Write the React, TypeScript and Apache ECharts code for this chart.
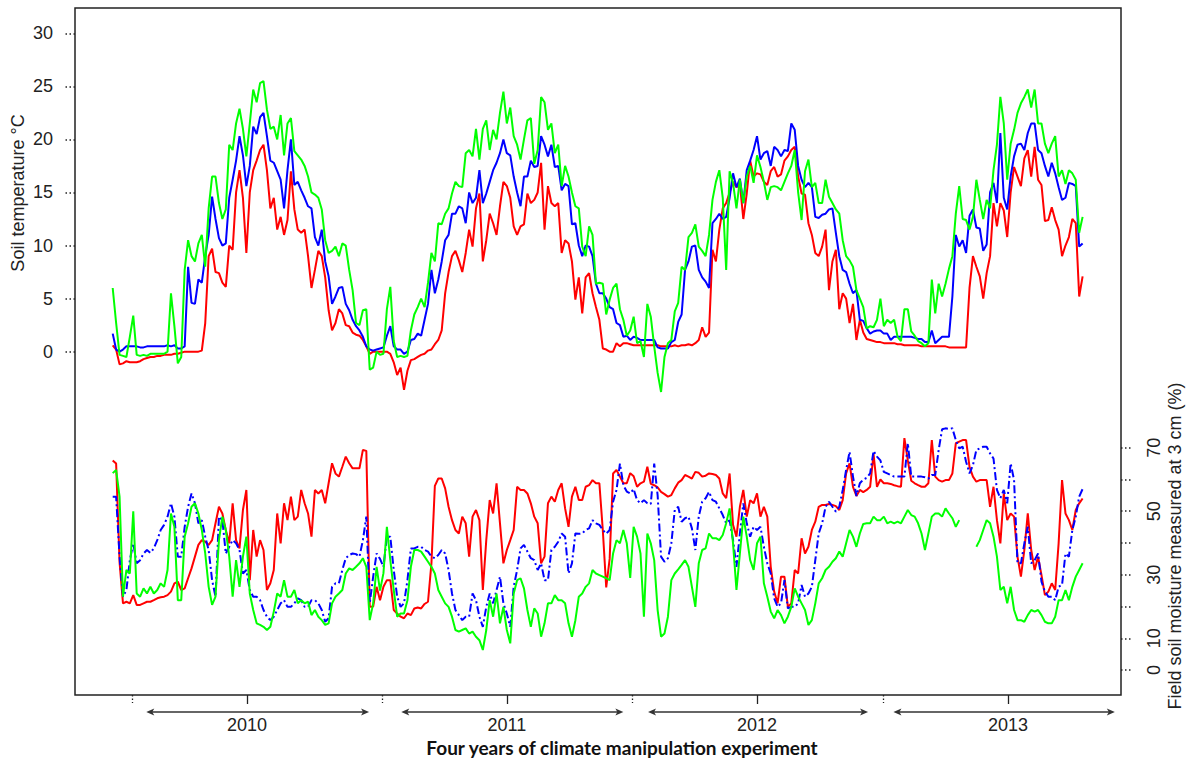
import React, { useEffect, useRef } from "react";
import * as echarts from "echarts";

// Sampling grid: readings every STEP_DAYS days from START_DAY (days relative to 1 Jan 2010);
// the "Mid" arrays hold the readings half a step later.
const START_DAY = -28;
const STEP_DAYS = 10;

// ---------- Soil temperature (°C) ----------
const tempRed = [
  0.6, -1.2, -0.9, -1.0, -0.9, -0.6, -0.5, -0.4, -0.3, -0.2,
  -0.1, 0.0, 0.0, 0.1, 9.0, 7.5, 6.5, 10.0, 15.0, 14.5,
  15.0, 18.0, 19.5, 13.5, 11.5, 11.0, 17.0, 11.5, 11.5, 6.0,
  9.5, 7.0, 2.0, 4.0, 2.5, 1.8, 1.5, 0.5, 0.0, 0.0,
  0.0, -1.0, -1.5, -1.8, -0.7, -0.3, 0.1, 0.7, 2.0, 7.5,
  9.5, 7.5, 11.5, 13.5, 8.5, 13.0, 11.0, 16.0, 14.5, 11.0,
  12.0, 14.0, 15.0, 11.5, 14.0, 14.0, 10.5, 8.5, 7.0, 7.0,
  5.5, 3.0, 0.2, 0.0, 0.5, 0.8, 0.6, 0.6, 0.6, 0.6,
  0.5, 0.5, 0.6, 0.6, 0.7, 0.8, 2.3, 1.8, 8.5, 13.5,
  15.0, 15.5, 12.5, 18.0, 16.8, 16.0, 17.0, 16.5, 18.0, 19.0,
  16.5, 14.8, 11.0, 9.0, 11.5, 8.5, 4.0, 5.0, 4.5, 3.0,
  1.2, 1.0, 0.9, 0.8, 0.8, 0.7, 0.6, 0.6, 0.5, 0.5,
  0.5, 0.5, 0.4, 0.4, 0.4, 6.0, 8.0, 5.0, 9.0, 11.8,
  13.3, 15.0, 16.5, 18.2, 16.5, 16.2, 12.3, 13.6, 11.5, 10.0,
  12.5, 5.2,
];
const tempRedMid = [
  0.2, -1.1, -1.0, -1.0, -0.7, -0.5, -0.4, -0.3, -0.3, -0.2,
  0.0, 0.0, 0.0, 2.7, 9.7, 7.4, 6.1, 9.6, 17.1, 9.3,
  17.1, 19.0, 17.1, 14.5, 12.7, 12.4, 13.4, 11.2, 9.0, 7.7,
  9.0, 3.9, 2.7, 3.6, 2.4, 1.6, 1.1, -0.2, 0.0, 0.0,
  -0.2, -2.2, -3.6, -0.8, -0.5, -0.2, 0.2, 1.1, 5.5, 9.0,
  8.6, 9.3, 9.9, 14.9, 10.5, 12.1, 13.7, 15.6, 11.8, 11.8,
  14.9, 14.3, 17.8, 15.6, 13.7, 9.3, 10.2, 4.9, 3.6, 7.4,
  4.2, 0.3, 0.0, 0.8, 0.8, 0.7, 0.6, 0.6, 0.6, 0.6,
  0.5, 0.5, 0.5, 0.6, 0.6, 1.1, 1.4, 9.6, 11.5, 14.0,
  16.0, 15.8, 14.9, 16.5, 16.7, 15.7, 17.4, 16.7, 18.4, 19.3,
  14.9, 12.1, 9.3, 9.9, 5.8, 9.6, 5.5, 2.7, 1.1, 1.8,
  1.1, 0.9, 0.8, 0.8, 0.7, 0.6, 0.6, 0.6, 0.5, 0.5,
  0.5, 0.5, 0.4, 0.4, 0.4, 9.0, 7.1, 7.4, 14.0, 14.0,
  10.8, 17.4, 15.6, 19.0, 19.3, 15.7, 12.4, 12.4, 9.0, 10.8,
  12.1, 7.1,
];
const tempBlue = [
  1.7, 0.0, 0.5, 0.5, 0.4, 0.5, 0.5, 0.5, 0.6, 0.6,
  0.3, 8.0, 4.5, 6.5, 11.0, 12.5, 10.0, 14.5, 18.0, 18.5,
  17.5, 20.5, 22.5, 18.0, 17.0, 13.5, 20.0, 16.0, 14.5, 13.5,
  10.0, 8.5, 4.5, 6.0, 4.5, 3.0, 2.0, 0.5, 0.1, 0.3,
  1.5, 0.5, 0.2, 0.0, 1.2, 1.5, 4.5, 5.5, 8.5, 11.0,
  13.0, 13.5, 15.0, 14.5, 14.0, 16.0, 17.8, 20.0, 18.5, 15.0,
  16.5, 18.0, 17.5, 19.5, 19.5, 17.5, 15.8, 12.0, 10.0, 10.0,
  9.0, 5.5, 5.0, 4.0, 2.5, 1.5, 1.4, 1.1, 1.1, 1.1,
  0.3, 0.3, 1.1, 3.5, 8.5, 10.0, 7.0, 6.0, 12.5, 12.5,
  14.5, 15.5, 14.0, 18.0, 20.3, 18.7, 17.5, 19.0, 19.0, 21.5,
  17.5, 15.5, 15.5, 12.6, 13.0, 13.5, 9.0, 7.5, 5.5, 3.0,
  2.2, 1.9, 2.0, 1.7, 1.4, 1.4, 1.4, 1.3, 1.2, 0.9,
  0.8, 1.4, 1.4, 11.0, 10.5, 12.8, 11.7, 9.5, 15.0, 14.0,
  14.5, 16.5, 19.5, 19.0, 21.5, 19.0, 17.5, 17.8, 15.5, 14.5,
  15.8, 9.9,
];
const tempBlueMid = [
  0.2, 0.2, 0.5, 0.5, 0.4, 0.5, 0.5, 0.5, 0.5, 0.3,
  0.5, 4.6, 6.8, 9.0, 14.6, 10.7, 10.2, 16.2, 20.3, 15.6,
  21.2, 22.1, 20.3, 17.8, 16.2, 17.1, 15.7, 15.2, 13.7, 10.8,
  11.5, 7.1, 5.2, 6.1, 3.9, 2.4, 1.4, 0.2, 0.2, 0.4,
  2.4, 0.2, -0.2, 1.1, 1.7, 3.0, 7.7, 6.8, 10.5, 13.0,
  13.7, 12.1, 14.0, 17.1, 14.9, 17.1, 18.7, 18.7, 16.5, 13.7,
  16.5, 17.4, 20.3, 18.4, 17.4, 15.2, 15.6, 12.1, 9.0, 9.9,
  6.4, 5.5, 4.2, 2.7, 1.4, 1.1, 1.3, 1.1, 1.1, 0.4,
  0.3, 0.9, 2.8, 7.7, 9.9, 7.7, 6.6, 12.1, 13.0, 12.7,
  16.8, 16.3, 17.1, 19.0, 18.1, 18.9, 19.3, 18.4, 18.9, 20.9,
  16.2, 15.9, 12.7, 12.9, 13.4, 11.2, 7.7, 6.4, 5.8, 2.9,
  1.7, 2.0, 1.7, 1.1, 1.4, 1.4, 1.4, 1.2, 0.9, 2.0,
  1.1, 1.4, 5.2, 9.9, 9.3, 13.4, 11.6, 10.1, 15.9, 20.6,
  13.4, 18.4, 19.6, 20.6, 21.5, 18.7, 16.5, 16.8, 14.3, 15.9,
  15.6, 10.2,
];
const tempGreen = [
  6.0, -0.3, -0.5, 3.4, -0.4, -0.4, -0.2, -0.2, 0.0, 2.4,
  -0.5, 10.5, 8.5, 11.0, 13.5, 16.5, 12.5, 19.5, 21.5, 21.0,
  21.5, 23.5, 25.5, 21.0, 20.0, 18.5, 22.0, 18.5, 17.5, 15.0,
  14.5, 10.5, 9.5, 9.0, 10.0, 5.8, 2.5, 4.0, -1.5, -0.3,
  4.0, 1.0, -0.4, -0.4, 3.5, 5.0, 6.5, 8.5, 12.0, 13.5,
  16.0, 15.5, 19.0, 21.0, 21.0, 19.0, 20.0, 24.5, 23.0, 19.5,
  20.0, 22.0, 19.0, 23.5, 21.5, 19.5, 17.5, 15.0, 13.5, 9.0,
  11.0, 6.5, 3.5, 6.0, 4.0, 1.5, 3.3, 1.0, 4.5, 0.5,
  -3.8, 0.8, 3.8, 8.0, 10.8, 12.0, 9.5, 11.0, 16.0, 14.5,
  17.0, 13.5, 14.0, 17.5, 18.5, 16.0, 15.5, 15.5, 16.0, 17.5,
  15.0, 17.0, 15.5, 14.0, 16.2, 14.0, 13.0, 9.0, 8.0, 5.0,
  2.2, 2.3, 5.0, 3.0, 3.0, 1.0, 4.0, 1.5, 0.8, 0.8,
  3.6, 5.2, 7.8, 13.0, 12.5, 11.5, 16.2, 12.5, 13.5, 19.5,
  21.5, 19.6, 22.5, 24.0, 23.0, 21.5, 19.6, 19.6, 16.5, 15.8,
  16.8, 11.2,
];
const tempGreenMid = [
  2.7, -0.4, 1.4, -0.3, -0.3, -0.2, -0.2, -0.2, 5.5, -1.1,
  7.7, 9.0, 10.2, 8.0, 16.5, 14.0, 13.4, 19.0, 22.9, 18.4,
  24.7, 25.3, 22.8, 21.2, 22.3, 21.5, 18.9, 18.1, 16.5, 14.8,
  13.4, 9.3, 9.9, 10.2, 7.7, 2.7, 3.9, -1.7, 0.0, -0.2,
  6.1, -0.5, -0.5, 2.0, 4.2, 4.2, 9.3, 12.1, 13.0, 14.9,
  15.6, 18.7, 18.4, 18.1, 21.8, 20.9, 22.5, 21.5, 20.3, 18.1,
  21.8, 17.7, 24.0, 20.9, 18.7, 15.6, 16.5, 13.7, 9.9, 11.8,
  6.4, 6.4, 4.9, 6.4, 3.0, 2.0, 0.8, -0.5, 3.3, -2.0,
  -0.5, 1.1, 4.6, 7.7, 11.2, 9.9, 9.0, 14.3, 17.1, 7.7,
  15.9, 16.2, 16.5, 15.9, 17.4, 14.3, 15.6, 15.2, 16.8, 19.0,
  12.4, 18.1, 15.9, 14.0, 14.6, 13.4, 10.5, 8.6, 5.8, 4.2,
  2.4, 3.0, 2.4, 2.7, 1.4, 4.0, 1.9, 1.0, 0.5, 6.8,
  6.4, 6.4, 9.0, 15.6, 12.4, 12.7, 14.3, 14.3, 17.1, 24.0,
  16.2, 20.9, 23.4, 24.7, 24.7, 21.5, 18.7, 20.3, 17.1, 17.1,
  16.2, 12.7,
];

// ---------- Field soil moisture at 3 cm (%) ----------
const moistRed = [
  66, 34, 21.5, 23.6, 20.5, 21.5, 22.0, 22.9, 23.6, 27.3,
  25.2, 28.9, 35.7, 40.9, 39.4, 46.2, 49.3, 39.9, 40.9, 50.4,
  28.3, 35.7, 37.8, 27.3, 49.3, 52.5, 54.6, 48.3, 52.5, 42.0,
  55.6, 52.5, 65.1, 60.9, 67.2, 63.5, 63.5, 69.0, 20.0, 22.0,
  28.3, 18.9, 16.8, 17.8, 19.4, 19.4, 21.5, 58.0, 60.3, 51.4,
  44.1, 48.3, 35.7, 50.4, 25.2, 53.5, 58.8, 33.6, 40.9, 57.7,
  56.7, 52.5, 46.2, 35.7, 54.6, 56.7, 50.9, 54.6, 53.5, 57.7,
  59.8, 58.8, 26.0, 61.9, 60.9, 58.8, 61.0, 58.8, 64.0, 58.2,
  56.1, 54.6, 57.2, 59.8, 60.9, 62.4, 60.9, 61.9, 61.4, 55.6,
  61.9, 42.0, 56.7, 53.5, 55.6, 51.4, 32.5, 21.0, 29.4, 21.0,
  30.4, 36.7, 44.1, 51.4, 52.0, 52.0, 50.4, 61.9, 57.7, 56.7,
  56.7, 68.0, 60.0, 58.8, 58.2, 57.7, 66.0, 58.8, 57.7, 58.8,
  60.9, 59.3, 59.8, 71.4, 72.4, 64.0, 59.3, 59.8, 51.4, 47.2,
  55.6, 49.3, 35.7, 37.8, 37.8, 35.7, 23.6, 27.3, 39.9, 49.3,
  44.1, 52.5,
];
const moistRedMid = [
  65, 21, 21, 20.5, 21.0, 21.5, 22.6, 23.1, 24.7, 27.8,
  25.7, 32.0, 39.4, 40.4, 40.9, 51.4, 44.1, 52.5, 38.3, 56.7,
  44.1, 40.9, 25.2, 31.5, 39.9, 47.2, 47.2, 56.7, 49.3, 56.7,
  56.7, 58.8, 61.9, 64.0, 65.1, 63.5, 69.3, 19.9, 26.2, 26.2,
  28.3, 17.8, 16.3, 17.3, 19.7, 20.8, 33.6, 60.3, 57.2, 47.2,
  43.0, 46.2, 48.3, 47.2, 40.9, 49.3, 46.2, 37.8, 44.1, 56.7,
  55.6, 48.3, 33.6, 52.5, 53.0, 58.8, 45.1, 57.7, 53.5, 58.2,
  58.8, 44.1, 35.0, 63.0, 58.8, 62.0, 57.7, 59.3, 58.6, 57.5,
  55.4, 55.1, 59.0, 61.4, 60.3, 62.1, 61.2, 61.7, 60.3, 54.1,
  45.7, 51.4, 48.3, 52.5, 48.3, 48.3, 24.7, 29.4, 19.9, 31.5,
  41.5, 38.8, 46.7, 52.0, 52.3, 51.6, 53.5, 65.1, 54.8, 56.0,
  57.7, 57.7, 58.8, 58.6, 57.9, 73.0, 59.6, 58.2, 57.7, 72.4,
  59.8, 59.8, 61.9, 71.9, 72.4, 60.9, 59.8, 59.8, 57.7, 39.9,
  47.2, 48.3, 29.4, 49.3, 31.5, 29.9, 24.7, 25.2, 59.8, 47.2,
  50.4, 54.0,
];
const moistBlue = [
  54.6, 35.7, 25.2, 39.9, 34.6, 37.8, 38.3, 44.1, 48.3, 48.3,
  35.7, 51.4, 52.5, 47.2, 37.8, 23.1, 47.2, 38.8, 39.9, 30.4,
  25.2, 23.1, 18.9, 15.7, 18.9, 22.0, 19.9, 22.6, 19.9, 22.0,
  21.0, 15.2, 26.2, 27.3, 35.2, 36.7, 35.7, 48.3, 29.4, 35.0,
  42.0, 31.5, 19.9, 28.3, 38.3, 38.8, 37.3, 35.2, 37.8, 31.5,
  18.9, 15.7, 16.8, 22.0, 13.6, 24.1, 25.2, 21.0, 13.6, 31.5,
  39.4, 35.2, 31.5, 28.3, 37.8, 40.4, 42.0, 33.6, 42.9, 44.1,
  47.2, 45.7, 42.9, 53.0, 65.0, 56.2, 57.0, 52.5, 52.5, 65.0,
  35.7, 35.2, 50.4, 46.7, 48.3, 37.8, 53.0, 56.1, 53.0, 48.8,
  47.2, 32.5, 52.5, 42.0, 44.1, 38.8, 30.4, 19.9, 28.3, 19.9,
  21.0, 23.1, 26.2, 43.0, 51.4, 51.4, 51.4, 63.0, 60.9, 58.8,
  60.5, 69.0, 66.0, 61.9, 60.9, 60.9, 71.4, 60.9, 60.9, 60.3,
  61.4, 75.8, 75.9, 72.4, 70.3, 61.9, 69.3, 70.3, 68.2, 56.7,
  56.7, 65.1, 33.6, 39.9, 33.6, 36.7, 24.7, 23.1, 26.2, 36.7,
  44.1, 54.6,
];
const moistBlueMid = [
  54.6, 23.1, 34.6, 33.6, 36.7, 36.9, 40.9, 45.7, 52.5, 35.7,
  45.1, 55.6, 46.2, 42.0, 28.3, 48.3, 36.7, 40.9, 37.8, 31.5,
  23.1, 22.0, 16.8, 16.8, 21.0, 19.9, 21.0, 22.0, 19.9, 22.0,
  18.9, 16.3, 27.3, 31.5, 36.2, 36.5, 40.9, 21.0, 36.7, 32.5,
  42.0, 23.1, 21.0, 38.3, 38.8, 37.8, 35.7, 36.2, 36.7, 24.1,
  17.3, 16.8, 24.1, 16.8, 19.9, 21.0, 29.4, 17.8, 26.2, 38.3,
  37.3, 34.6, 33.6, 28.3, 38.8, 43.0, 30.4, 43.0, 43.0, 44.6,
  46.2, 44.1, 44.1, 56.7, 58.2, 55.6, 53.5, 53.5, 52.3, 55.0,
  34.1, 39.9, 51.4, 47.8, 44.6, 48.3, 54.1, 53.5, 50.9, 46.2,
  40.9, 43.0, 46.2, 45.1, 45.1, 33.6, 22.6, 21.0, 19.4, 19.9,
  26.8, 24.1, 34.6, 46.2, 53.0, 49.9, 56.7, 68.7, 54.8, 60.0,
  61.9, 67.2, 62.4, 61.4, 60.9, 60.9, 60.9, 60.9, 60.7, 61.4,
  69.3, 76.1, 76.1, 69.8, 65.6, 64.5, 69.8, 70.3, 66.6, 54.1,
  52.5, 59.8, 33.6, 45.1, 34.6, 27.8, 23.1, 22.0, 26.8, 35.7,
  48.3, 57.0,
];
const moistGreen = [
  62, 54.6, 31.5, 50, 23.1, 24.1, 24.1, 27.3, 31.5, 45.1,
  22, 46.2, 52.5, 44.1, 26.2, 23.1, 48.3, 35.7, 34.6, 35.7,
  24.1, 14.7, 13.6, 13.6, 24.1, 28.3, 23.1, 21.0, 21.0, 17.3,
  16.8, 14.2, 21.0, 24.1, 30.4, 31.5, 33.6, 32.5, 21.0, 25.0,
  45.1, 25.2, 17.8, 22.0, 37.8, 37.3, 34.1, 30.4, 23.1, 19.9,
  12.6, 12.6, 11.5, 10.5, 6.3, 22.0, 24.1, 19.9, 8.4, 28.3,
  25.7, 13.6, 17.8, 14.7, 21.0, 22.0, 21.0, 10.5, 23.1, 26.2,
  31.5, 29.9, 28.9, 36.7, 39.9, 39.9, 45.1, 36.7, 43.0, 34.6,
  10.5, 16.8, 30.4, 33.1, 32.5, 19.9, 37.8, 43.0, 41.5, 42.5,
  50.9, 25.2, 48.3, 34.6, 39.9, 27.3, 18.4, 18.9, 14.7, 19.9,
  23.1, 18.9, 15.7, 27.3, 31.5, 34.1, 37.3, 39.9, 42.0, 43.0,
  46.2, 48.3, 47.2, 46.2, 46.2, 46.2, 50.4, 48.3, 43.0, 43.0,
  49.3, 48.3, 49.3, 45.1, null, null, 38.8, 44.1, 46.2, 35.7,
  26.2, 26.2, 15.7, 15.2, 18.9, 18.9, 15.2, 14.7, 22.0, 25.2,
  26.2, 31.5,
];
const moistGreenMid = [
  63, 23.1, 30.4, 24.1, 25.7, 26.2, 25.2, 26.2, 49.3, 22.0,
  42.0, 51.4, 49.3, 36.7, 20.5, 40.9, 44.1, 23.1, 26.2, 42.0,
  18.9, 14.2, 12.6, 18.4, 23.1, 23.1, 25.2, 22.0, 21.5, 18.9,
  15.7, 14.7, 23.1, 25.2, 32.0, 32.5, 35.2, 15.7, 32.5, 30.5,
  34.6, 16.8, 17.8, 32.5, 37.8, 35.7, 32.5, 25.2, 21.0, 16.8,
  12.1, 13.1, 12.1, 9.4, 12.6, 16.8, 14.7, 12.6, 24.1, 28.9,
  18.9, 19.4, 10.5, 21.0, 23.6, 22.0, 14.7, 15.7, 24.1, 27.3,
  30.4, 29.4, 28.3, 40.9, 44.1, 29.0, 42.0, 16.8, 39.9, 18.9,
  11.5, 28.3, 31.7, 34.6, 26.2, 33.6, 38.3, 41.5, 40.9, 46.2,
  39.9, 36.7, 42.0, 31.5, 42.0, 23.1, 16.3, 17.3, 16.8, 25.7,
  21.0, 14.2, 21.0, 28.9, 32.5, 35.2, 35.7, 44.1, 38.8, 46.0,
  46.2, 47.2, 48.3, 46.7, 46.7, 48.3, 48.8, 46.2, 37.8, 48.3,
  49.3, 50.9, 47.8, 47.2, null, null, 40.9, 47.2, 42.0, 25.2,
  21.0, 18.9, 15.7, 17.3, 18.4, 17.3, 14.7, 16.8, 22.0, 22.0,
  29.4, 33.6,
];

// ---------- Axes ----------
const tempTicks = [0, 5, 10, 15, 20, 25, 30];
const moistTicks = [0, 10, 20, 30, 40, 50, 60, 70];
const moistLabels = [0, 10, 30, 50, 70];
const yearBoundaryDays = [0, 365, 730, 1096];
const yearLabels = ["2010", "2011", "2012", "2013"];
const yearLabelDays = [168, 547, 912, 1278];
const yearArrowDays = [
  [21, 346],
  [393, 717],
  [753, 1074],
  [1111, 1434],
];
const X_MIN = -83;
const X_MAX = 1443;
const T_MIN = -32.35;
const T_MAX = 32.38;
const M_MIN = -7.86;
const M_MAX = 208.45;

const FONT = "'Liberation Sans', Arial, sans-serif";
const TEXT = "#222";

const toPairs = (grid: (number | null)[], mid: (number | null)[]) => {
  const out: [number, number | null][] = [];
  grid.forEach((v, i) => {
    const d = START_DAY + i * STEP_DAYS;
    out.push([d, v]);
    if (i < mid.length) out.push([d + STEP_DAYS / 2, mid[i]]);
  });
  return out;
};

export default function App() {
  const ref = useRef<HTMLDivElement>(null);

  useEffect(() => {
    const chart = echarts.init(ref.current!, null, { renderer: "svg" });

    const lineSeries = (
      name: string,
      grid: (number | null)[],
      mid: (number | null)[],
      color: string,
      yAxisIndex: number,
      type: any = "solid"
    ) => ({
      name,
      type: "line",
      xAxisIndex: 0,
      yAxisIndex,
      data: toPairs(grid, mid),
      showSymbol: false,
      symbol: "none",
      connectNulls: false,
      lineStyle: { color, width: 2, type },
      itemStyle: { color },
      z: 3,
    });

    const hiddenLine = { show: false, onZero: false };

    chart.setOption({
      animation: false,
      backgroundColor: "#fff",
      grid: {
        left: 75,
        right: 68,
        top: 8,
        bottom: 63,
        show: true,
        borderColor: "#222",
        borderWidth: 1.5,
        backgroundColor: "transparent",
      },
      xAxis: [
        {
          type: "value",
          min: X_MIN,
          max: X_MAX,
          position: "bottom",
          axisLine: hiddenLine,
          splitLine: { show: false },
          axisTick: {
            show: true,
            customValues: yearLabelDays,
            length: 9,
            lineStyle: { color: "#222", width: 1.3 },
          },
          axisLabel: {
            show: true,
            customValues: yearLabelDays,
            formatter: (v: number) => yearLabels[yearLabelDays.indexOf(v)] ?? "",
            margin: 21,
            fontSize: 18,
            lineHeight: 18,
            fontFamily: FONT,
            color: TEXT,
          },
        },
        {
          type: "value",
          min: X_MIN,
          max: X_MAX,
          position: "bottom",
          axisLine: hiddenLine,
          splitLine: { show: false },
          axisTick: {
            show: true,
            customValues: yearBoundaryDays,
            length: 8,
            lineStyle: { color: "#222", width: 1.3, type: [1.5, 2] },
          },
          axisLabel: { show: false },
        },
      ],
      yAxis: [
        {
          type: "value",
          min: T_MIN,
          max: T_MAX,
          position: "left",
          axisLine: hiddenLine,
          splitLine: { show: false },
          axisTick: {
            show: true,
            customValues: tempTicks,
            length: 10,
            lineStyle: { color: "#222", width: 1.5, type: [1.5, 2.5] },
          },
          axisLabel: {
            show: true,
            customValues: tempTicks,
            margin: 22,
            fontSize: 18,
            fontFamily: FONT,
            color: TEXT,
          },
        },
        {
          type: "value",
          min: M_MIN,
          max: M_MAX,
          position: "right",
          axisLine: hiddenLine,
          splitLine: { show: false },
          axisTick: {
            show: true,
            customValues: moistTicks,
            length: 10,
            lineStyle: { color: "#222", width: 1.5, type: [1.5, 2.5] },
          },
          axisLabel: {
            show: true,
            customValues: moistLabels,
            rotate: 90,
            margin: 24,
            fontSize: 18,
            fontFamily: FONT,
            color: TEXT,
          },
        },
      ],
      series: [
        lineSeries("Temp red", tempRed, tempRedMid, "#ff0000", 0),
        lineSeries("Temp blue", tempBlue, tempBlueMid, "#0000ff", 0),
        lineSeries("Temp green", tempGreen, tempGreenMid, "#00ff00", 0),
        lineSeries("Moisture red", moistRed, moistRedMid, "#ff0000", 1),
        lineSeries("Moisture blue", moistBlue, moistBlueMid, "#0000ff", 1, [8, 3, 2, 3]),
        lineSeries("Moisture green", moistGreen, moistGreenMid, "#00ff00", 1),
      ],
    });

    const arrowY = 712;
    const head = 8;
    const halfH = 3.5;
    const graphics: any[] = [
      {
        type: "text",
        x: 18,
        y: 193,
        rotation: Math.PI / 2,
        style: {
          text: "Soil temperature °C",
          font: `18px ${FONT}`,
          fill: TEXT,
          align: "center",
          verticalAlign: "middle",
        },
      },
      {
        type: "text",
        x: 1175,
        y: 546,
        rotation: Math.PI / 2,
        style: {
          text: "Field soil moisture measured at 3 cm (%)",
          font: `18px ${FONT}`,
          fill: TEXT,
          align: "center",
          verticalAlign: "middle",
        },
      },
      {
        type: "text",
        x: 622,
        y: 747,
        style: {
          text: "Four years of climate manipulation experiment",
          font: `bold 19px Lato, 'Open Sans', sans-serif`,
          fill: "#111",
          align: "center",
          verticalAlign: "middle",
        },
      },
    ];
    yearArrowDays.forEach(([a, b]) => {
      const x1 = chart.convertToPixel({ xAxisIndex: 0 }, a) as number;
      const x2 = chart.convertToPixel({ xAxisIndex: 0 }, b) as number;
      graphics.push({
        type: "line",
        shape: { x1: x1 + 3, y1: arrowY, x2: x2 - 3, y2: arrowY },
        style: { stroke: "#333", lineWidth: 1.5 },
      });
      graphics.push({
        type: "polygon",
        shape: {
          points: [
            [x1, arrowY],
            [x1 + head, arrowY - halfH],
            [x1 + head - 2, arrowY],
            [x1 + head, arrowY + halfH],
          ],
        },
        style: { fill: "#333" },
      });
      graphics.push({
        type: "polygon",
        shape: {
          points: [
            [x2, arrowY],
            [x2 - head, arrowY - halfH],
            [x2 - head + 2, arrowY],
            [x2 - head, arrowY + halfH],
          ],
        },
        style: { fill: "#333" },
      });
    });
    chart.setOption({ graphic: graphics });

    return () => chart.dispose();
  }, []);

  return (
    <div
      ref={ref}
      style={{
        position: "fixed",
        left: 0,
        top: 0,
        width: 1189,
        height: 758,
        background: "#fff",
      }}
    />
  );
}
